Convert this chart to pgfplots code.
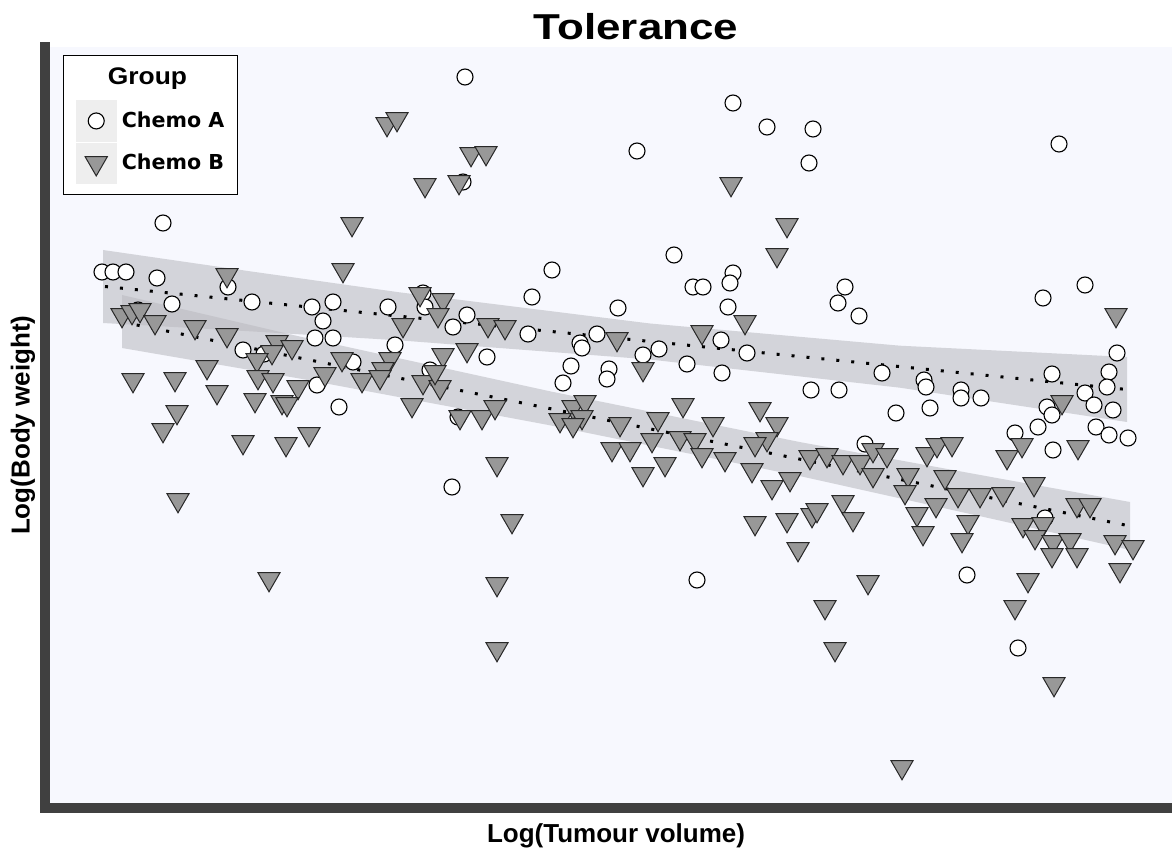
\documentclass[border=0pt]{standalone}
\usepackage{fontspec}
\setmainfont{Liberation Sans}
\newfontfamily\dejavu{DejaVu Sans}
\usepackage{graphicx}
\usepackage{pgfplots}
\pgfplotsset{compat=1.18}
\definecolor{bg}{RGB}{247,248,254}
\definecolor{axisgray}{RGB}{64,64,64}
\definecolor{bandc}{RGB}{188,188,194}
\definecolor{trifill}{RGB}{152,152,152}
\definecolor{legbg}{RGB}{238,238,238}
\pgfplotsset{legsq/.style={legend image code/.code={\fill[legbg] (-10pt,-10pt) rectangle (10pt,10pt);
    \draw[##1] plot coordinates {(0pt,0pt)};}}}

\pgfplotstableread{
x y
102 580
113 580
126 580
157 574
172 548
163 629
228 565
252 550
312 545
333 550
388 545
323 531
315 514
333 514
395 507
243 502
264 498
353 490
317 467
339 445
138 542
465 775
733 749
767 725
637 701
463 670
674 597
552 582
693 565
703 565
733 579
730 569
532 555
618 544
728 545
423 559
425 545
467 537
453 525
528 518
597 518
580 509
582 504
487 495
721 512
659 503
643 497
747 499
571 486
609 483
607 473
563 469
687 488
722 479
430 482
458 435
813 723
809 689
1059 708
845 565
838 549
859 536
1085 567
1043 554
1117 499
1109 480
1107 465
1052 478
1085 459
1094 447
1113 442
1047 445
1052 437
882 479
924 472
926 465
961 462
961 454
981 454
811 462
839 462
896 439
930 444
865 408
1015 419
1038 425
1053 402
1096 425
1109 417
1128 414
1045 334
967 277
1018 204
452 365
697 272
}\chemoA

\pgfplotstableread{
x y
387 728
397 733
352 628
343 582
227 577
122 537
132 540
140 542
155 530
195 525
227 517
277 510
292 505
272 500
257 492
342 493
390 493
383 483
325 478
362 472
380 475
133 472
175 473
207 485
258 475
273 472
298 465
217 460
255 452
282 450
287 448
177 440
163 422
243 410
286 408
309 418
178 352
269 273
471 698
486 699
425 667
459 670
731 668
787 627
777 597
420 558
443 552
438 537
403 527
488 527
505 525
443 497
467 502
617 513
702 520
745 530
643 483
423 470
440 465
435 480
412 447
460 435
482 435
495 445
573 445
585 450
560 432
582 435
683 447
760 443
658 433
620 428
713 428
777 428
573 427
767 413
755 408
612 403
630 403
652 412
680 414
695 412
702 397
725 393
665 388
643 378
752 382
772 365
497 388
512 331
497 268
497 203
755 329
787 332
790 373
812 337
817 342
798 303
810 395
827 397
843 390
860 390
873 402
887 397
873 377
843 350
853 333
868 270
825 245
835 203
902 85
927 398
937 407
952 408
908 377
905 360
917 338
936 347
923 319
945 375
958 357
980 357
1003 358
1007 395
1022 407
1034 368
968 330
962 312
1023 327
1043 328
1035 315
1053 310
1070 312
1052 297
1077 297
1078 405
1077 347
1090 347
1115 310
1133 305
1120 282
1028 272
1015 245
1054 168
1116 537
1062 450
}\chemoB

\begin{document}
\begin{tikzpicture}
\useasboundingbox (-22.5pt,-22pt) rectangle (563.5pt,404pt);
\begin{axis}[
  scale only axis,
  width=563.5pt, height=380.5pt,
  xmin=45, xmax=1172, ymin=44, ymax=805,
  axis x line*=bottom, axis y line*=left,
  axis line style={-, line width=5pt, draw=axisgray, line cap=rect},
  xtick=\empty, ytick=\empty,
  axis background/.style={fill=bg},
  every axis title shift=0pt,
  title={\bfseries\fontsize{18}{20}\selectfont\scalebox{1.22}[1]{Tolerance}},
  title style={at={(axis description cs:0.5244,1.027)}, anchor=center, inner sep=0pt},
  xlabel={\bfseries\fontsize{13}{15}\selectfont Log(Tumour volume)},
  xlabel style={at={(axis description cs:0.5067,-0.0368)}, anchor=center, inner sep=0pt},
  ylabel={\bfseries\fontsize{13}{15}\selectfont Log(Body weight)},
  ylabel style={at={(axis description cs:-0.0195,0.503)}, anchor=center, inner sep=0pt},
  legend cell align=left,
  legend style={at={(axis description cs:0.016,0.9895)}, anchor=north west,
    draw=black, line width=0.6pt, fill=white,
    inner xsep=6pt, inner ysep=5.5pt, row sep=0.5pt, column sep=2pt,
    nodes={inner sep=0.5pt}},
]
% confidence bands
\addplot[forget plot, fill=bandc, fill opacity=0.6, draw=none] coordinates {
 (103,602) (250,580.7) (400,559.6) (650,528.5) (900,506.3) (1127,495)
 (1127,430) (900,464.3) (650,492.5) (400,511.6) (250,520.7) (103,529)};
\addplot[forget plot, fill=bandc, fill opacity=0.6, draw=none] coordinates {
 (122,557) (300,515.4) (550,460.7) (800,409.9) (1000,373.4) (1130,350)
 (1130,302) (1000,331.4) (800,375.9) (550,426.7) (300,473.4) (122,504)};

\addlegendimage{empty legend}
\addlegendentry{\hspace*{-7pt}\raisebox{5.5pt}{\bfseries\fontsize{12}{14}\selectfont\scalebox{1.1}[1]{Group}}}

\addplot[only marks, mark=*, mark size=4pt,
  mark options={fill=white, draw=black, line width=0.55pt}, legsq]
  table[x=x,y=y]{\chemoA};
\addlegendentry{\dejavu\bfseries\fontsize{10.3}{12}\selectfont Chemo A}

\addplot[only marks, mark=triangle*, mark size=6.4pt,
  mark options={rotate=180, fill=trifill, draw={rgb,255:red,40;green,40;blue,40}, line width=0.5pt}, legsq]
  table[x=x,y=y]{\chemoB};
\addlegendentry{\dejavu\bfseries\fontsize{10.3}{12}\selectfont Chemo B}

% fitted lines
\addplot[forget plot, black, line width=1.5pt, dash pattern=on 1.5pt off 6pt] coordinates {(105,565.5) (1127,462.5)};
\addplot[forget plot, black, line width=1.5pt, dash pattern=on 1.5pt off 6pt] coordinates {(122,530) (1130,326)};
\end{axis}
\end{tikzpicture}
\end{document}
